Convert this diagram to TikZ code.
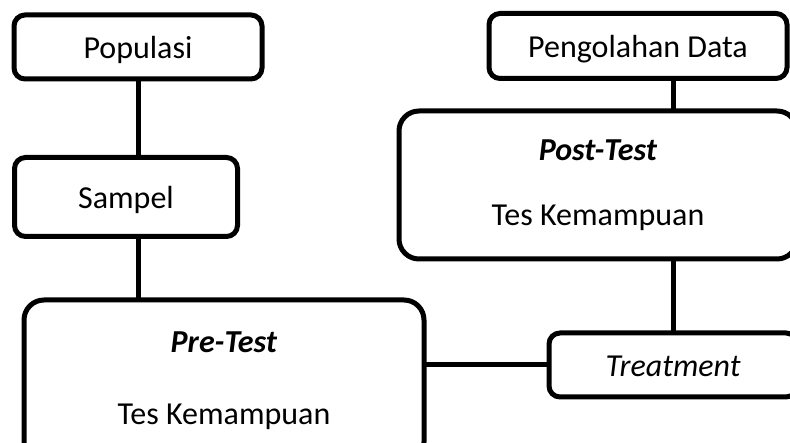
\documentclass[tikz,border=0pt]{standalone}
\usepackage{fontspec}
\setmainfont{Carlito}
\begin{document}
\begin{tikzpicture}[x=1pt,y=-1pt,
  box/.style={draw=black, line width=5pt, fill=white, inner sep=0pt, outer sep=0pt,
    align=center, font=\fontsize{32}{65}\selectfont},
  oneline/.style={text height=29pt, text depth=6pt},
  link/.style={draw=black, line width=5pt}]
\useasboundingbox (0,0) rectangle (790,443);
\clip (0,0) rectangle (790,443);

% left column
\node[box, oneline, rounded corners=11pt, minimum width=248pt, minimum height=64pt] (pop) at (138,47) {Populasi};
\node[box, oneline, rounded corners=11pt, minimum width=223pt, minimum height=79pt] (sam) at (126,197) {Sampel};
\node[box, rounded corners=20pt, minimum width=400pt, minimum height=162pt,
      font=\fontsize{32}{72}\selectfont] (pre) at (224,381)
  {\textbf{\textit{Pre-Test}}\\Tes Kemampuan};

% right column
\node[box, oneline, rounded corners=11pt, minimum width=298pt, minimum height=65pt] (peng) at (638,46) {Pengolahan Data};
\node[box, rounded corners=20pt, minimum width=398pt, minimum height=148pt] (post) at (598,185)
  {\textbf{\textit{Post-Test}}\\Tes Kemampuan};
\node[box, oneline, rounded corners=11pt, minimum width=248pt, minimum height=64pt] (tre) at (673,365) {\textit{Treatment}};

% connectors
\draw[link] (pop.south) -- (pop.south |- sam.north);
\draw[link] (pop.south |- sam.south) -- (pop.south |- pre.north);
\draw[link] (tre.north |- peng.south) -- (tre.north |- post.north);
\draw[link] (tre.north |- post.south) -- (tre.north);
\draw[link] (tre.west) -- (tre.west -| pre.east);
\end{tikzpicture}
\end{document}
